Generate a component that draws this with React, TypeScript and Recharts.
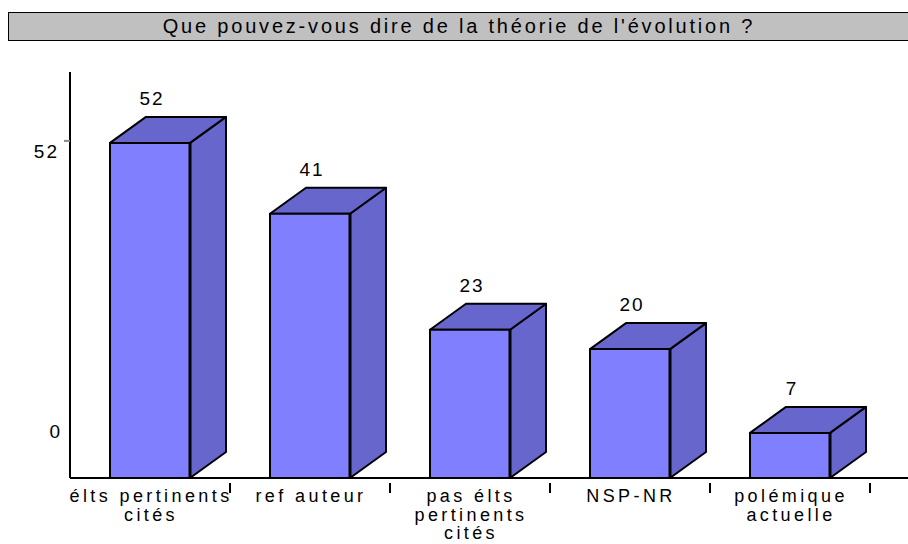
import React from "react";
import { BarChart, Bar, XAxis, YAxis, LabelList } from "recharts";

const categories = [
  ["élts pertinents", "cités"],
  ["ref auteur"],
  ["pas élts", "pertinents", "cités"],
  ["NSP-NR"],
  ["polémique", "actuelle"],
];
const values = [52, 41, 23, 20, 7];
const yTicks = [0, 52];
const title = "Que pouvez-vous dire de la théorie de l'évolution ?";

const data = categories.map((c, i) => ({ name: c.join("\n"), value: values[i] }));

const FONT = "'Liberation Sans', Arial, sans-serif";
const DX = 36;
const DY = -26;
const FRONT = "#8080ff";
const SIDE = "#6666cc";

const Bar3D = (props: any) => {
  const { x, y, width, height } = props;
  if (height == null) return null;
  const r = x + width;
  const b = y + height;
  return (
    <g stroke="#000" strokeWidth={2} strokeLinejoin="round">
      <polygon points={`${r},${y} ${r + DX},${y + DY} ${r + DX},${b + DY} ${r},${b}`} fill={SIDE} />
      <polygon points={`${x},${y} ${x + DX},${y + DY} ${r + DX},${y + DY} ${r},${y}`} fill={SIDE} />
      <rect x={x} y={y} width={width} height={height} fill={FRONT} />
      <line x1={r} y1={y} x2={r} y2={b} strokeWidth={3} />
    </g>
  );
};

const ValueLabel = (props: any) => {
  const { x, y, width, value } = props;
  return (
    <text
      x={x + width / 2 + 2}
      y={y + DY - 12}
      textAnchor="middle"
      fontFamily={FONT}
      fontSize={19}
      letterSpacing={2}
      fill="#000"
    >
      {value}
    </text>
  );
};

const XTick = (props: any) => {
  const { x, y, payload, index } = props;
  const lines = String(payload.value).split("\n");
  return (
    <g>
      {index === 0 && <line x1={70} y1={y} x2={908} y2={y} stroke="#000" strokeWidth={2} />}
      <line x1={x + 80} y1={y + 5} x2={x + 80} y2={y + 15} stroke="#000" strokeWidth={2} />
      <text textAnchor="middle" fontFamily={FONT} fontSize={18} letterSpacing={3.4} fill="#000">
        {lines.map((l, i) => (
          <tspan key={i} x={x + 1} y={y + 24 + i * 18.5}>
            {l}
          </tspan>
        ))}
      </text>
    </g>
  );
};

const YTick = (props: any) => {
  const { y, payload } = props;
  const isZero = payload.value === 0;
  return (
    <g>
      {!isZero && <line x1={64} y1={y - 2} x2={70} y2={y - 2} stroke="#888" strokeWidth={2} />}
      <text
        x={isZero ? 62 : 59}
        y={isZero ? y - 40 : y + 15}
        textAnchor="end"
        fontFamily={FONT}
        fontSize={19}
        letterSpacing={2}
        fill="#000"
      >
        {payload.value}
      </text>
    </g>
  );
};

export default function App() {
  return (
    <div style={{ position: "absolute", left: 0, top: 0, width: 908, height: 544, background: "#fff", overflow: "hidden" }}>
      <div
        style={{
          position: "absolute",
          left: 8,
          top: 12,
          width: 910,
          height: 29,
          background: "#c0c0c0",
          border: "1.5px solid #000",
          boxSizing: "border-box",
          fontFamily: FONT,
          fontSize: 20,
          letterSpacing: 2.8,
          lineHeight: "26px",
          textAlign: "center",
          color: "#000",
        }}
      >
        <span style={{ position: "relative", left: -4 }}>{title}</span>
      </div>
      <BarChart
        width={908}
        height={544}
        data={data}
        margin={{ top: 72, right: 38, bottom: 0, left: 0 }}
        barSize={80}
        style={{ position: "absolute", left: 0, top: 0 }}
      >
        <YAxis
          width={70}
          domain={[0, 63]}
          ticks={yTicks}
          tickLine={false}
          axisLine={{ stroke: "#000", strokeWidth: 2 }}
          tick={<YTick />}
          interval={0}
        />
        <XAxis
          dataKey="name"
          axisLine={false}
          tickLine={false}
          tickSize={0}
          tickMargin={0}
          height={66}
          interval={0}
          tick={<XTick />}
        />
        <Bar dataKey="value" shape={<Bar3D />} isAnimationActive={false}>
          <LabelList dataKey="value" content={<ValueLabel />} />
        </Bar>
      </BarChart>
    </div>
  );
}
